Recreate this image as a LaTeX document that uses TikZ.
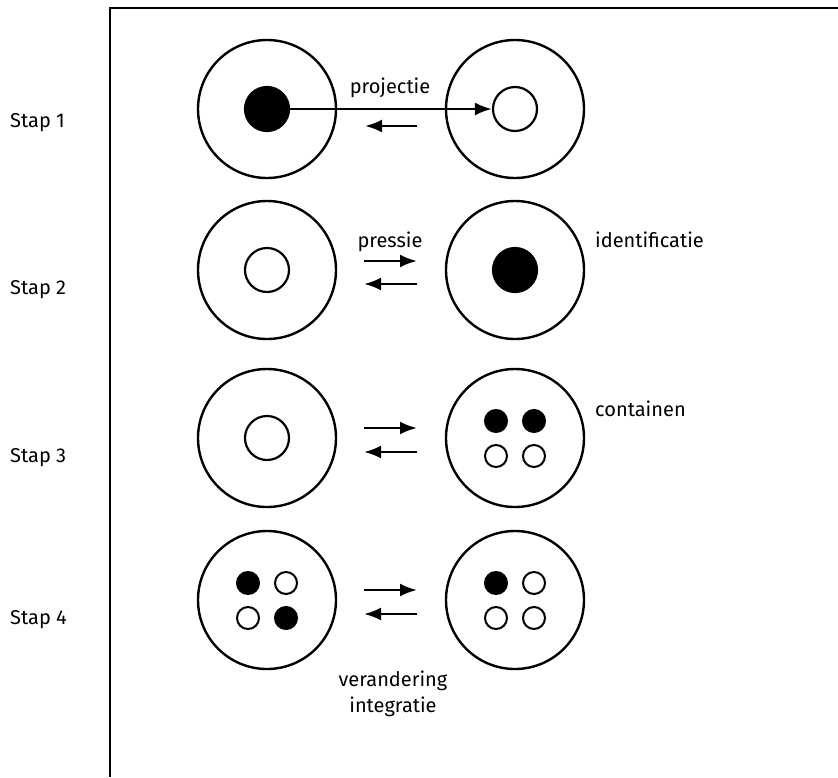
\documentclass[tikz,border=0pt]{standalone}
\usepackage{fontspec}
\setmainfont{Fira Sans}
\usetikzlibrary{positioning,arrows.meta}

\begin{document}
\begin{tikzpicture}[
    x=1pt, y=-1pt,
    bigcircle/.style={%
      draw,
      circle,
      line width=2.4pt,
      minimum size=138pt,
      inner sep=0pt,
    },
    dot/.style={%
      draw,
      circle,
      line width=2.2pt,
      minimum size=44pt,
      inner sep=0pt,
    },
    smalldot/.style={%
      draw,
      circle,
      line width=2pt,
      minimum size=22pt,
      inner sep=0pt,
    },
    filled/.style={fill=black},
    arrow/.style={line width=2.6pt, -{Latex[length=17pt,width=13pt]}},
    txt/.style={font=\fontsize{20}{26}\selectfont, inner sep=0pt},
  ]

    \useasboundingbox (0,0) rectangle (838,777);
    \draw [line width=1.8pt] (838,8) -- (110,8) -- (110,777);

    % stap labels
    \node [txt, anchor=west] (S1) at (10,123) {Stap 1};
    \node [txt, anchor=west] (S2) at (10,290) {Stap 2};
    \node [txt, anchor=west] (S3) at (10,458) {Stap 3};
    \node [txt, anchor=west] (S4) at (10,620) {Stap 4};

    % big circles
    \node [bigcircle] (L1) at (267,109) {};
    \node [bigcircle] (R1) at (515,109) {};
    \node [bigcircle] (L2) at (267,270) {};
    \node [bigcircle] (R2) at (515,270) {};
    \node [bigcircle] (L3) at (267,438) {};
    \node [bigcircle] (R3) at (515,438) {};
    \node [bigcircle] (L4) at (267,600) {};
    \node [bigcircle] (R4) at (515,600) {};

    % inner circles
    \node [dot, filled] (L1in) at (L1) {};
    \node [dot] (R1in) at (R1) {};
    \node [dot] (L2in) at (L2) {};
    \node [dot, filled] (R2in) at (R2) {};
    \node [dot] (L3in) at (L3) {};
    \path (R3) ++(-19,-17) node [smalldot, filled] (R3a) {};
    \path (R3) ++(19,-17) node [smalldot, filled] (R3b) {};
    \path (R3) ++(-19,18) node [smalldot] (R3c) {};
    \path (R3) ++(19,18) node [smalldot] (R3d) {};
    \path (L4) ++(-19,-17) node [smalldot, filled] (L4a) {};
    \path (L4) ++(19,-17) node [smalldot] (L4b) {};
    \path (L4) ++(-19,18) node [smalldot] (L4c) {};
    \path (L4) ++(19,18) node [smalldot, filled] (L4d) {};
    \path (R4) ++(-19,-17) node [smalldot, filled] (R4a) {};
    \path (R4) ++(19,-17) node [smalldot] (R4b) {};
    \path (R4) ++(-19,18) node [smalldot] (R4c) {};
    \path (R4) ++(19,18) node [smalldot] (R4d) {};

    % arrow ends
    \coordinate (B1s) at (417,126);
    \coordinate (B1e) at (365,126);
    \coordinate (F2s) at (364,261);
    \coordinate (F2e) at (417,261);
    \coordinate (B2s) at (417,284);
    \coordinate (B2e) at (364,284);
    \coordinate (F3s) at (364,428);
    \coordinate (F3e) at (417,428);
    \coordinate (B3s) at (417,452);
    \coordinate (B3e) at (364,452);
    \coordinate (F4s) at (364,590);
    \coordinate (F4e) at (417,590);
    \coordinate (B4s) at (417,614);
    \coordinate (B4e) at (364,614);

    \draw [arrow] (L1in.center) -- (R1in);
    \draw [arrow] (B1s) -- (B1e);
    \draw [arrow] (F2s) -- (F2e);
    \draw [arrow] (B2s) -- (B2e);
    \draw [arrow] (F3s) -- (F3e);
    \draw [arrow] (B3s) -- (B3e);
    \draw [arrow] (F4s) -- (F4e);
    \draw [arrow] (B4s) -- (B4e);

    % texts
    \node [txt] (proj) at (390,88) {projectie};
    \node [txt] (pres) at (390,242) {pressie};
    \node [txt, anchor=west] (ident) at (595,240) {identificatie};
    \node [txt, anchor=west] (cont) at (595,409) {containen};
    \node [txt, align=center] (verint) at (393,694) {verandering\\integratie};
\end{tikzpicture}
\end{document}
